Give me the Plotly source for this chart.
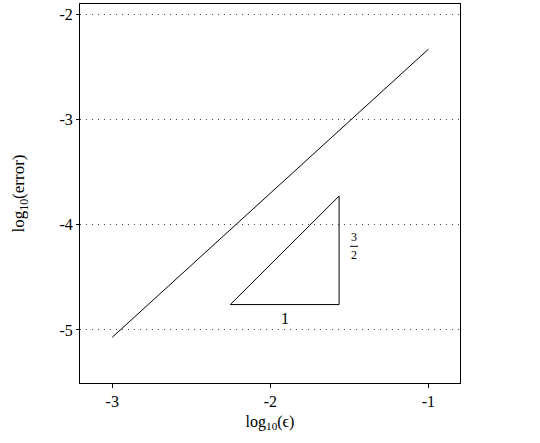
import plotly.graph_objects as go

# data
line_x = [-3.0, -1.0]
line_y = [-5.07, -2.33]

tri_x = [-2.253, -1.565, -1.565, -2.253]
tri_y = [-4.759, -4.759, -3.727, -4.759]

x_ticks = [-3, -2, -1]
x_tick_labels = ["-3", "-2", "-1"]
y_ticks = [-5, -4, -3, -2]
y_tick_labels = ["-5", "-4", "-3", "-2"]

run_label = "1"
rise_num, rise_den = "3", "2"

FONT = "Liberation Serif, DejaVu Serif, serif"

fig = go.Figure()
fig.add_trace(go.Scatter(x=line_x, y=line_y, mode="lines",
                         line=dict(color="black", width=1), showlegend=False, hoverinfo="skip"))
fig.add_trace(go.Scatter(x=tri_x, y=tri_y, mode="lines",
                         line=dict(color="black", width=1), showlegend=False, hoverinfo="skip"))

# labels placed relative to triangle geometry
base_mid_x = (tri_x[0] + tri_x[1]) / 2
side_mid_y = (tri_y[1] + tri_y[2]) / 2
fig.add_annotation(x=base_mid_x, y=tri_y[0], text=run_label, showarrow=False,
                   yanchor="top", yshift=-3, font=dict(family=FONT, size=16, color="black"))
fig.add_annotation(x=tri_x[1], y=side_mid_y, text=rise_num, showarrow=False,
                   xanchor="center", xshift=15, yanchor="bottom", yshift=4,
                   font=dict(family=FONT, size=12, color="black"))
fig.add_annotation(x=tri_x[1], y=side_mid_y, text=rise_den, showarrow=False,
                   xanchor="center", xshift=15, yanchor="top", yshift=4,
                   font=dict(family=FONT, size=12, color="black"))
# fraction bar (pixel-sized, anchored to the triangle's vertical side)
fig.add_shape(type="line", xref="x", yref="y",
              xsizemode="pixel", xanchor=tri_x[1], x0=11, x1=19,
              ysizemode="pixel", yanchor=side_mid_y, y0=4, y1=4,
              line=dict(color="black", width=1))

fig.update_layout(
    width=540, height=443,
    margin=dict(l=80, r=80, t=4, b=60, autoexpand=False),
    paper_bgcolor="white", plot_bgcolor="white",
    font=dict(family=FONT, size=16, color="black"),
    showlegend=False,
    xaxis=dict(range=[-3.204, -0.80], tickvals=x_ticks, ticktext=x_tick_labels,
               showgrid=False, zeroline=False, showline=True, mirror=True,
               linecolor="black", linewidth=1, ticks="outside", ticklen=4,
               tickcolor="black", automargin=False,
               title=dict(text="log<sub>10</sub>(\u03f5)", standoff=6, font=dict(size=16))),
    yaxis=dict(range=[-5.505, -1.9], tickvals=y_ticks, ticktext=y_tick_labels,
               showgrid=True, gridcolor="#444", griddash="1px,5px", gridwidth=1,
               zeroline=False, showline=True, mirror=True,
               linecolor="black", linewidth=1, ticks="outside", ticklen=3,
               tickcolor="black", automargin=False,
               title=dict(text="log<sub>10</sub>(error)", standoff=30, font=dict(size=17))),
)

fig.write_html("out.html", config={"displayModeBar": False},
               post_script="document.body.style.margin='0';")
